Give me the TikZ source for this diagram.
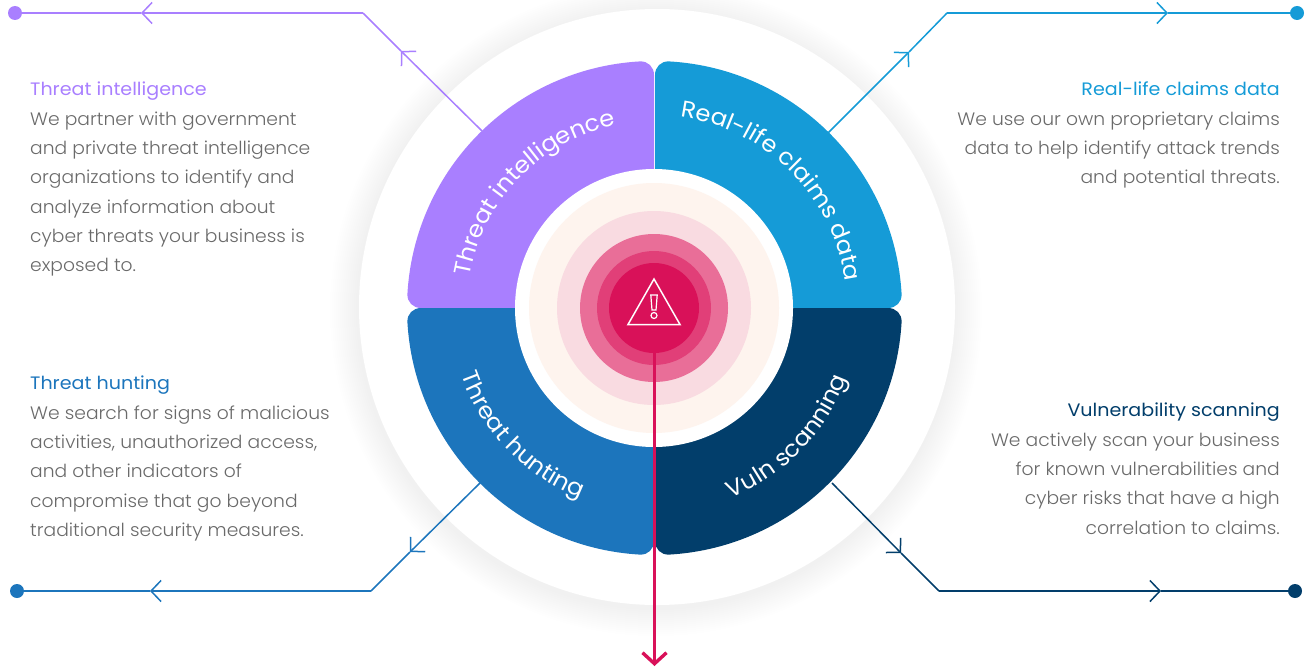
\documentclass[tikz,border=0pt]{standalone}
\usepackage{fontspec}
\setmainfont{Poppins}[UprightFont=* Light,BoldFont=*,FakeStretch=1.04]
\newfontfamily\headfont{Poppins}[FakeStretch=1.06]
\newfontfamily\arcfont{Poppins}[FakeStretch=1.05]
\usetikzlibrary{arrows.meta,decorations.text}
\definecolor{tipurple}{HTML}{A97FFF}
\definecolor{claimblue}{HTML}{159BD7}
\definecolor{huntblue}{HTML}{1C75BC}
\definecolor{vulnnavy}{HTML}{023E6B}
\definecolor{alertred}{HTML}{D91159}
\definecolor{ringa}{HTML}{FEF4EE}
\definecolor{ringb}{HTML}{F9DBE1}
\definecolor{ringc}{HTML}{E96E98}
\definecolor{ringd}{HTML}{E13F78}
\definecolor{bodygrey}{HTML}{6A6A6A}
\tikzset{
  leader/.style={draw=#1,line width=1.5pt},
  chevron/.style={draw=#1,line width=1.5pt,-{Straight Barb[length=10pt,width=21pt]}},
  dot/.style={circle,fill=#1,inner sep=0pt,minimum size=14pt},
  desc/.style={inner sep=0pt,text=bodygrey,font=\fontsize{18}{29.3}\selectfont},
  arclabel/.style={decorate,decoration={text along path,text align=center,
    text={|\arcfont\fontsize{23}{23}\selectfont\color{white}|#1}}},
}
\newcommand{\petal}[3]{\fill[#1,xscale=#2,yscale=#3] (0,0) -- (0,233)
  .. controls (0,241) and (-6,247) .. (-14,246.6)
  arc[start angle=93.25,end angle=176.75,radius=247pt]
  .. controls (-247,6) and (-241,0) .. (-233,0) -- cycle;}
\begin{document}
\begin{tikzpicture}[x=1pt,y=1pt]
  \useasboundingbox (0,0) rectangle (1308,-669);
  % soft halo
  \foreach \r in {300,302,...,326}
    \fill[black,opacity=0.0022] (656,-310) circle[radius=\r pt];
  \fill[white] (657,-307) circle[radius=298pt];
  % quarters
  \begin{scope}[shift={(654,-308)}]
    \petal{tipurple}{1}{1}
    \petal{huntblue}{1}{-1}
    \begin{scope}[xshift=1pt]
      \petal{claimblue}{-1}{1}
      \petal{vulnnavy}{-1}{-1}
    \end{scope}
    \fill[white] (0,0) circle[radius=139pt];
    \fill[ringa] (0,0) circle[radius=125pt];
    \fill[ringb] (0,0) circle[radius=97pt];
    \fill[ringc] (0,0) circle[radius=74pt];
    \fill[ringd] (0,0) circle[radius=57pt];
    \fill[alertred] (0,0) circle[radius=45pt];
    \path[arclabel={Threat intelligence}] (0,0) ++(176:187pt) arc[start angle=176,end angle=96,radius=187pt];
    \path[arclabel={Real-life claims data}] (0,0) ++(85:193pt) arc[start angle=85,end angle=5,radius=193pt];
    \path[arclabel={Threat hunting}] (0,0) ++(184:204pt) arc[start angle=184,end angle=264,radius=204pt];
    \path[arclabel={Vuln scanning}] (0,0) ++(276:205pt) arc[start angle=276,end angle=356,radius=205pt];
  \end{scope}
  % alert sign
  \draw[white,line width=1.5pt,line join=miter] (654,-279) -- (680,-324.5) -- (628,-324.5) -- cycle;
  \draw[white,line width=1.2pt] (650.8,-295) -- (657.2,-295) -- (656,-310) -- (652,-310) -- cycle;
  \draw[white,line width=1.2pt] (654,-315.5) circle[radius=3pt];
  % red arrow
  \coordinate (alert) at (654.5,-350);
  \coordinate (alertend) at (654.5,-666);
  \draw[alertred,line width=3.4pt,-{Straight Barb[length=11pt,width=24pt]}] (alert) -- (alertend);
  % leaders
  \node[dot=tipurple] (tidot) at (15,-13) {};
  \coordinate (tiknee) at (363,-13);
  \coordinate (tiend) at (482,-131);
  \coordinate (tihead) at (141,-13);
  \coordinate (tidiag) at (401,-51);
  \draw[chevron=tipurple] (tiend) -- (tidiag);
  \draw[leader=tipurple] (tidiag) -- (tiknee);
  \draw[chevron=tipurple] (tiknee) -- (tihead);
  \draw[leader=tipurple] (tihead) -- (tidot);
  \node[dot=claimblue] (cldot) at (1297,-13) {};
  \coordinate (clknee) at (947,-13);
  \coordinate (clend) at (828,-133);
  \coordinate (clhead) at (1168,-13);
  \coordinate (cldiag) at (909,-52);
  \draw[chevron=claimblue] (clend) -- (cldiag);
  \draw[leader=claimblue] (cldiag) -- (clknee);
  \draw[chevron=claimblue] (clknee) -- (clhead);
  \draw[leader=claimblue] (clhead) -- (cldot);
  \node[dot=huntblue] (hudot) at (17,-591) {};
  \coordinate (huknee) at (371,-591);
  \coordinate (huend) at (480,-483);
  \coordinate (huhead) at (150,-591);
  \coordinate (hudiag) at (410,-552);
  \draw[chevron=huntblue] (huend) -- (hudiag);
  \draw[leader=huntblue] (hudiag) -- (huknee);
  \draw[chevron=huntblue] (huknee) -- (huhead);
  \draw[leader=huntblue] (huhead) -- (hudot);
  \node[dot=vulnnavy] (vudot) at (1295,-591) {};
  \coordinate (vuknee) at (939,-591);
  \coordinate (vuend) at (832,-483);
  \coordinate (vuhead) at (1161,-591);
  \coordinate (vudiag) at (901,-553);
  \draw[chevron=vulnnavy] (vuend) -- (vudiag);
  \draw[leader=vulnnavy] (vudiag) -- (vuknee);
  \draw[chevron=vulnnavy] (vuknee) -- (vuhead);
  \draw[leader=vulnnavy] (vuhead) -- (vudot);
  % texts
  \node[desc,anchor=north west,align=left] (titext) at (30,-82) {\textcolor{tipurple}{\headfont Threat intelligence}\\
    We partner with government\\and private threat intelligence\\organizations to identify and\\analyze information about\\cyber threats your business is\\exposed to.};
  \node[desc,anchor=north east,align=right] (cltext) at (1280,-82) {\textcolor{claimblue}{\headfont Real-life claims data}\\
    We use our own proprietary claims\\data to help identify attack trends\\and potential threats.};
  \node[desc,anchor=north west,align=left] (hutext) at (30,-376) {\textcolor{huntblue}{\headfont Threat hunting}\\
    We search for signs of malicious\\activities, unauthorized access,\\and other indicators of\\compromise that go beyond\\traditional security measures.};
  \node[desc,anchor=north east,align=right] (vutext) at (1280,-403) {\textcolor{vulnnavy}{\headfont Vulnerability scanning}\\
    We actively scan your business\\for known vulnerabilities and\\cyber risks that have a high\\correlation to claims.};
\end{tikzpicture}
\end{document}
